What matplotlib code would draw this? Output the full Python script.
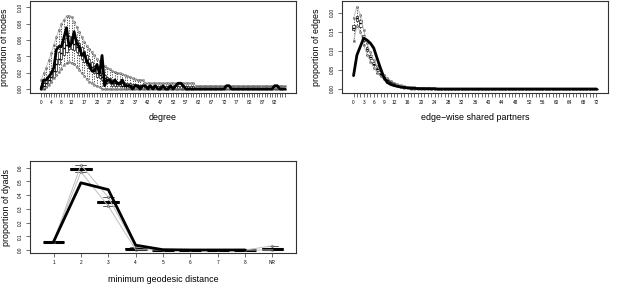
import matplotlib
matplotlib.use("Agg")
import matplotlib.pyplot as plt

plt.rcParams['font.family'] = ['Liberation Sans', 'DejaVu Sans']

# ---------------- degree ----------------
deg_cats = list(range(97))
deg_shown = [0, 4, 8, 12, 17, 22, 27, 32, 37, 42, 47, 52, 57, 62, 67, 72, 77, 82, 87, 92]
deg_med = [0.000, 0.004, 0.007, 0.011, 0.015, 0.022, 0.030, 0.037, 0.044, 0.050,
           0.054, 0.057, 0.057, 0.055, 0.052, 0.048, 0.044, 0.040, 0.035, 0.031,
           0.027, 0.023, 0.020, 0.017, 0.015, 0.013, 0.011, 0.009, 0.007, 0.007,
           0.006, 0.006, 0.004, 0.004, 0.004, 0.004, 0.004, 0.004, 0.004, 0.004,
           0.004, 0.004, 0.004, 0.004, 0.004, 0.004, 0.000, 0.000, 0.000, 0.000,
           0.000, 0.000, 0.000, 0.000, 0.000, 0.000, 0.000, 0.000, 0.000, 0.000,
           0.000, 0.000, 0.000, 0.000, 0.000, 0.000, 0.000, 0.000, 0.000, 0.000,
           0.000, 0.000, 0.000, 0.000, 0.000, 0.000, 0.000, 0.000, 0.000, 0.000,
           0.000, 0.000, 0.000, 0.000, 0.000, 0.000, 0.000, 0.000, 0.000, 0.000,
           0.000, 0.000, 0.000, 0.000, 0.000, 0.000, 0.000]
deg_q1 = [0.000, 0.000, 0.004, 0.007, 0.011, 0.015, 0.022, 0.030, 0.037, 0.041,
          0.045, 0.049, 0.049, 0.048, 0.045, 0.041, 0.037, 0.033, 0.029, 0.026,
          0.022, 0.019, 0.015, 0.013, 0.011, 0.009, 0.007, 0.007, 0.004, 0.004,
          0.004, 0.004, 0.004, 0.000, 0.000, 0.000, 0.000, 0.000, 0.000, 0.000,
          0.000, 0.000, 0.000, 0.000, 0.000, 0.000, 0.000, 0.000, 0.000, 0.000,
          0.000, 0.000, 0.000, 0.000, 0.000, 0.000, 0.000, 0.000, 0.000, 0.000,
          0.000, 0.000, 0.000, 0.000, 0.000, 0.000, 0.000, 0.000, 0.000, 0.000,
          0.000, 0.000, 0.000, 0.000, 0.000, 0.000, 0.000, 0.000, 0.000, 0.000,
          0.000, 0.000, 0.000, 0.000, 0.000, 0.000, 0.000, 0.000, 0.000, 0.000,
          0.000, 0.000, 0.000, 0.000, 0.000, 0.000, 0.000]
deg_q3 = [0.004, 0.007, 0.011, 0.015, 0.022, 0.030, 0.037, 0.045, 0.052, 0.058,
          0.062, 0.065, 0.065, 0.063, 0.060, 0.056, 0.051, 0.046, 0.041, 0.037,
          0.033, 0.028, 0.025, 0.022, 0.019, 0.017, 0.015, 0.013, 0.011, 0.010,
          0.009, 0.008, 0.007, 0.007, 0.007, 0.007, 0.006, 0.006, 0.005, 0.005,
          0.004, 0.004, 0.004, 0.004, 0.004, 0.004, 0.004, 0.004, 0.004, 0.004,
          0.004, 0.004, 0.004, 0.004, 0.004, 0.004, 0.004, 0.004, 0.004, 0.004,
          0.004, 0.000, 0.000, 0.000, 0.000, 0.000, 0.000, 0.000, 0.000, 0.000,
          0.000, 0.000, 0.000, 0.000, 0.000, 0.000, 0.000, 0.000, 0.000, 0.000,
          0.000, 0.000, 0.000, 0.000, 0.000, 0.000, 0.000, 0.000, 0.000, 0.000,
          0.000, 0.000, 0.000, 0.000, 0.000, 0.000, 0.000]
deg_lo = [0.000, 0.000, 0.002, 0.005, 0.009, 0.013, 0.017, 0.021, 0.025, 0.029,
          0.032, 0.033, 0.032, 0.030, 0.027, 0.023, 0.019, 0.016, 0.012, 0.009,
          0.007, 0.005, 0.004, 0.002, 0.000, 0.000, 0.000, 0.000, 0.000, 0.000,
          0.000, 0.000, 0.000, 0.000, 0.000, 0.000, 0.000, 0.000, 0.000, 0.000,
          0.000, 0.000, 0.000, 0.000, 0.000, 0.000, 0.000, 0.000, 0.000, 0.000,
          0.000, 0.000, 0.000, 0.000, 0.000, 0.000, 0.000, 0.000, 0.000, 0.000,
          0.000, 0.000, 0.000, 0.000, 0.000, 0.000, 0.000, 0.000, 0.000, 0.000,
          0.000, 0.000, 0.000, 0.000, 0.000, 0.000, 0.000, 0.000, 0.000, 0.000,
          0.000, 0.000, 0.000, 0.000, 0.000, 0.000, 0.000, 0.000, 0.000, 0.000,
          0.000, 0.000, 0.000, 0.000, 0.000, 0.000, 0.000]
deg_hi = [0.011, 0.019, 0.026, 0.035, 0.044, 0.054, 0.064, 0.072, 0.080, 0.085,
          0.089, 0.089, 0.088, 0.082, 0.076, 0.070, 0.064, 0.058, 0.053, 0.049,
          0.045, 0.041, 0.037, 0.034, 0.031, 0.028, 0.026, 0.024, 0.022, 0.021,
          0.020, 0.019, 0.018, 0.017, 0.016, 0.015, 0.013, 0.012, 0.011, 0.011,
          0.011, 0.007, 0.007, 0.007, 0.007, 0.007, 0.007, 0.007, 0.007, 0.007,
          0.007, 0.007, 0.007, 0.007, 0.007, 0.007, 0.007, 0.007, 0.007, 0.007,
          0.007, 0.004, 0.004, 0.004, 0.004, 0.004, 0.004, 0.004, 0.004, 0.004,
          0.004, 0.004, 0.004, 0.004, 0.004, 0.004, 0.004, 0.004, 0.004, 0.004,
          0.004, 0.004, 0.004, 0.004, 0.004, 0.004, 0.004, 0.004, 0.004, 0.004,
          0.004, 0.004, 0.004, 0.004, 0.004, 0.004, 0.004]
deg_obs = [0.000, 0.011, 0.011, 0.015, 0.019, 0.026, 0.048, 0.052, 0.052, 0.063,
           0.075, 0.052, 0.056, 0.070, 0.056, 0.052, 0.041, 0.044, 0.033, 0.030,
           0.022, 0.022, 0.030, 0.019, 0.041, 0.004, 0.011, 0.011, 0.007, 0.011,
           0.007, 0.007, 0.011, 0.004, 0.004, 0.004, 0.000, 0.004, 0.004, 0.000,
           0.004, 0.004, 0.000, 0.004, 0.000, 0.004, 0.000, 0.000, 0.004, 0.000,
           0.000, 0.004, 0.000, 0.004, 0.007, 0.007, 0.004, 0.000, 0.000, 0.000,
           0.000, 0.000, 0.000, 0.000, 0.000, 0.000, 0.000, 0.000, 0.000, 0.000,
           0.000, 0.000, 0.000, 0.004, 0.004, 0.000, 0.000, 0.000, 0.000, 0.000,
           0.000, 0.000, 0.000, 0.000, 0.000, 0.000, 0.000, 0.000, 0.000, 0.000,
           0.000, 0.000, 0.004, 0.004, 0.000, 0.000, 0.000]
deg_yticks = [0.00, 0.02, 0.04, 0.06, 0.08, 0.10]
deg_ylabels = ["0.00", "0.02", "0.04", "0.06", "0.08", "0.10"]

# ---------------- edge-wise shared partners ----------------
esp_cats = list(range(73))
esp_shown = [0, 3, 6, 9, 12, 16, 20, 24, 28, 32, 36, 40, 44, 48, 52, 56, 60, 64, 68, 72]
esp_med = [0.160, 0.185, 0.172, 0.135, 0.105, 0.084, 0.066, 0.052, 0.040, 0.031,
           0.024, 0.018, 0.013, 0.010, 0.007, 0.005, 0.004, 0.003, 0.002, 0.002,
           0.001, 0.001, 0.001, 0.000, 0.000, 0.000, 0.000, 0.000, 0.000, 0.000,
           0.000, 0.000, 0.000, 0.000, 0.000, 0.000, 0.000, 0.000, 0.000, 0.000,
           0.000, 0.000, 0.000, 0.000, 0.000, 0.000, 0.000, 0.000, 0.000, 0.000,
           0.000, 0.000, 0.000, 0.000, 0.000, 0.000, 0.000, 0.000, 0.000, 0.000,
           0.000, 0.000, 0.000, 0.000, 0.000, 0.000, 0.000, 0.000, 0.000, 0.000,
           0.000, 0.000, 0.000]
esp_q1 = [0.155, 0.177, 0.163, 0.126, 0.099, 0.079, 0.062, 0.048, 0.037, 0.028,
          0.022, 0.016, 0.012, 0.009, 0.006, 0.004, 0.003, 0.002, 0.002, 0.001,
          0.001, 0.001, 0.000, 0.000, 0.000, 0.000, 0.000, 0.000, 0.000, 0.000,
          0.000, 0.000, 0.000, 0.000, 0.000, 0.000, 0.000, 0.000, 0.000, 0.000,
          0.000, 0.000, 0.000, 0.000, 0.000, 0.000, 0.000, 0.000, 0.000, 0.000,
          0.000, 0.000, 0.000, 0.000, 0.000, 0.000, 0.000, 0.000, 0.000, 0.000,
          0.000, 0.000, 0.000, 0.000, 0.000, 0.000, 0.000, 0.000, 0.000, 0.000,
          0.000, 0.000, 0.000]
esp_q3 = [0.168, 0.192, 0.180, 0.142, 0.111, 0.089, 0.070, 0.055, 0.043, 0.033,
          0.026, 0.020, 0.015, 0.011, 0.008, 0.006, 0.005, 0.004, 0.003, 0.002,
          0.002, 0.001, 0.001, 0.001, 0.001, 0.001, 0.001, 0.001, 0.001, 0.001,
          0.001, 0.000, 0.000, 0.000, 0.000, 0.000, 0.000, 0.000, 0.000, 0.000,
          0.000, 0.000, 0.000, 0.000, 0.000, 0.000, 0.000, 0.000, 0.000, 0.000,
          0.000, 0.000, 0.000, 0.000, 0.000, 0.000, 0.000, 0.000, 0.000, 0.000,
          0.000, 0.000, 0.000, 0.000, 0.000, 0.000, 0.000, 0.000, 0.000, 0.000,
          0.000, 0.000, 0.000]
esp_lo = [0.125, 0.165, 0.150, 0.115, 0.090, 0.072, 0.056, 0.043, 0.033, 0.025,
          0.019, 0.014, 0.010, 0.007, 0.005, 0.003, 0.002, 0.001, 0.001, 0.000,
          0.000, 0.000, 0.000, 0.000, 0.000, 0.000, 0.000, 0.000, 0.000, 0.000,
          0.000, 0.000, 0.000, 0.000, 0.000, 0.000, 0.000, 0.000, 0.000, 0.000,
          0.000, 0.000, 0.000, 0.000, 0.000, 0.000, 0.000, 0.000, 0.000, 0.000,
          0.000, 0.000, 0.000, 0.000, 0.000, 0.000, 0.000, 0.000, 0.000, 0.000,
          0.000, 0.000, 0.000, 0.000, 0.000, 0.000, 0.000, 0.000, 0.000, 0.000,
          0.000, 0.000, 0.000]
esp_hi = [0.185, 0.216, 0.195, 0.155, 0.120, 0.096, 0.076, 0.060, 0.047, 0.037,
          0.029, 0.022, 0.017, 0.013, 0.010, 0.008, 0.006, 0.005, 0.004, 0.003,
          0.003, 0.002, 0.002, 0.001, 0.001, 0.001, 0.001, 0.001, 0.001, 0.001,
          0.001, 0.001, 0.001, 0.001, 0.001, 0.001, 0.001, 0.001, 0.001, 0.001,
          0.001, 0.001, 0.001, 0.001, 0.001, 0.001, 0.001, 0.001, 0.001, 0.001,
          0.001, 0.001, 0.001, 0.001, 0.001, 0.001, 0.001, 0.001, 0.001, 0.001,
          0.001, 0.001, 0.001, 0.001, 0.001, 0.001, 0.001, 0.001, 0.001, 0.001,
          0.001, 0.001, 0.001]
esp_obs = [0.035, 0.089, 0.111, 0.133, 0.128, 0.120, 0.107, 0.080, 0.054, 0.030,
           0.017, 0.012, 0.009, 0.007, 0.005, 0.004, 0.003, 0.002, 0.002, 0.001,
           0.001, 0.001, 0.001, 0.001, 0.001, 0.000, 0.000, 0.000, 0.000, 0.000,
           0.000, 0.000, 0.000, 0.000, 0.000, 0.000, 0.000, 0.000, 0.000, 0.000,
           0.000, 0.000, 0.000, 0.000, 0.000, 0.000, 0.000, 0.000, 0.000, 0.000,
           0.000, 0.000, 0.000, 0.000, 0.000, 0.000, 0.000, 0.000, 0.000, 0.000,
           0.000, 0.000, 0.000, 0.000, 0.000, 0.000, 0.000, 0.000, 0.000, 0.000,
           0.000, 0.000, 0.000]
esp_yticks = [0.00, 0.05, 0.10, 0.15, 0.20]
esp_ylabels = ["0.00", "0.05", "0.10", "0.15", "0.20"]

# ---------------- minimum geodesic distance ----------------
geo_cats = ["1", "2", "3", "4", "5", "6", "7", "8", "NR"]
geo_shown = ["1", "2", "3", "4", "5", "6", "7", "8", "NR"]
geo_med = [0.060, 0.588, 0.350, 0.010, 0.000, 0.000, 0.000, 0.000, 0.008]
geo_q1 = [0.060, 0.580, 0.342, 0.007, 0.000, 0.000, 0.000, 0.000, 0.003]
geo_q3 = [0.060, 0.595, 0.356, 0.013, 0.001, 0.000, 0.000, 0.000, 0.012]
geo_lo = [0.060, 0.570, 0.320, 0.002, 0.000, 0.000, 0.000, 0.000, 0.000]
geo_hi = [0.060, 0.620, 0.385, 0.022, 0.001, 0.000, 0.000, 0.000, 0.030]
geo_obs = [0.060, 0.490, 0.440, 0.035, 0.002, 0.000, 0.000, 0.000, 0.000]
geo_yticks = [0.0, 0.1, 0.2, 0.3, 0.4, 0.5, 0.6]
geo_ylabels = ["0.0", "0.1", "0.2", "0.3", "0.4", "0.5", "0.6"]

W, H = 623, 305
fig = plt.figure(figsize=(W / 100, H / 100), dpi=100)


def make_ax(left, top, right, bottom):
    return fig.add_axes([left / W, 1 - bottom / H, (right - left) / W, (bottom - top) / H])


TICK_FS = 3.4
LAB_FS = 6.4


def panel(ax, cats, shown, med, q1, q3, lo, hi, obs, ylim, yticks, ylabels,
          xlabel, ylabel, obs_upto=None, med_lw=1.4):
    n = len(cats)
    pos = list(range(1, n + 1))
    stats = []
    for i in range(n):
        stats.append(dict(med=med[i], q1=q1[i], q3=q3[i],
                          whislo=lo[i], whishi=hi[i], fliers=[]))
    ax.bxp(stats, positions=pos, widths=0.8, showfliers=False,
           manage_ticks=False, patch_artist=True,
           boxprops=dict(facecolor='white', edgecolor='black', linewidth=0.45),
           whiskerprops=dict(color='black', linestyle=(0, (2, 2)), linewidth=0.45),
           capprops=dict(color='black', linewidth=0.45),
           medianprops=dict(color='black', linewidth=med_lw, solid_capstyle='butt'))
    # 95% bounds in gray with small markers
    ax.plot(pos, lo, color='#BFBFBF', lw=0.7, zorder=3)
    ax.plot(pos, hi, color='#BFBFBF', lw=0.7, zorder=3)
    ax.plot(pos, lo, linestyle='none', marker='o', ms=1.6, mfc='none',
            mec='#555555', mew=0.35, zorder=3)
    ax.plot(pos, hi, linestyle='none', marker='o', ms=1.6, mfc='none',
            mec='#555555', mew=0.35, zorder=3)
    m = n if obs_upto is None else obs_upto
    ax.plot(pos[:m], obs[:m], color='black', lw=2.0, zorder=4,
            solid_joinstyle='round', solid_capstyle='round')

    ax.set_xlim(0.5 - 0.04 * n, n + 0.5 + 0.04 * n)
    ax.set_ylim(*ylim)
    ax.set_xticks(pos)
    ax.set_xticklabels([str(c) if c in shown else '' for c in cats])
    ax.set_yticks(yticks)
    ax.set_yticklabels(ylabels, rotation=90, va='center')
    ax.tick_params(axis='both', length=3, width=0.5, labelsize=TICK_FS,
                   direction='out', color='#333333')
    ax.tick_params(axis='x', pad=2.2)
    ax.tick_params(axis='y', pad=1.8)
    for s in ax.spines.values():
        s.set_linewidth(0.8)
        s.set_color('#333333')
    ax.set_xlabel(xlabel, fontsize=LAB_FS)
    ax.set_ylabel(ylabel, fontsize=LAB_FS)


ax1 = make_ax(30, 1, 296, 93)
panel(ax1, deg_cats, deg_shown, deg_med, deg_q1, deg_q3, deg_lo, deg_hi, deg_obs,
      (-0.0049, 0.1077), deg_yticks, deg_ylabels, "degree", "proportion of nodes",
      med_lw=1.0)
ax1.xaxis.set_label_coords(0.5, -0.27)
ax1.xaxis.label.set_va('center')
ax1.yaxis.set_label_coords(-0.096, 0.5)
ax1.yaxis.label.set_va('center')

ax2 = make_ax(342, 1, 608, 93)
panel(ax2, esp_cats, esp_shown, esp_med, esp_q1, esp_q3, esp_lo, esp_hi, esp_obs,
      (-0.0105, 0.2306), esp_yticks, esp_ylabels, "edge\u2212wise shared partners",
      "proportion of edges", med_lw=1.0)
ax2.xaxis.set_label_coords(0.5, -0.27)
ax2.xaxis.label.set_va('center')
ax2.yaxis.set_label_coords(-0.094, 0.5)
ax2.yaxis.label.set_va('center')

ax3 = make_ax(30, 161, 296, 253)
panel(ax3, geo_cats, geo_shown, geo_med, geo_q1, geo_q3, geo_lo, geo_hi, geo_obs,
      (-0.022, 0.649), geo_yticks, geo_ylabels, "minimum geodesic distance",
      "proportion of dyads", obs_upto=8, med_lw=2.2)
ax3.xaxis.set_label_coords(0.5, -0.283)
ax3.xaxis.label.set_va('center')
ax3.yaxis.set_label_coords(-0.09, 0.5)
ax3.yaxis.label.set_va('center')

fig.savefig("out.png", dpi=100)
